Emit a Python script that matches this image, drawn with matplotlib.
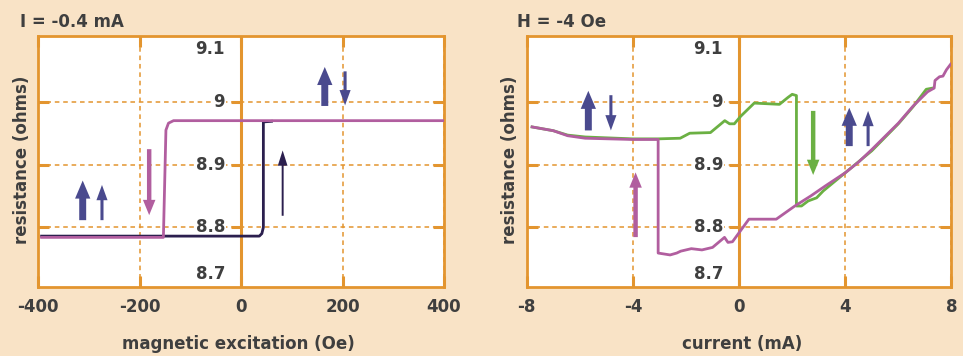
import matplotlib
matplotlib.use("Agg")
import matplotlib.pyplot as plt
from matplotlib.patches import FancyArrowPatch

# colours
BG = "#F9E3C6"
ORANGE = "#E3952F"
PINK = "#B15E9F"
NAVY = "#2B1F4E"
BLUE = "#4A4A8E"
GREEN = "#6BB043"
TEXT = "#3F3F3F"

plt.rcParams["font.family"] = ["DejaVu Sans"]
plt.rcParams["font.weight"] = "bold"
FS = 12

# ---- left panel: R vs field at I = -0.4 mA ----
field_up = [-393, 36, 41, 44, 44, 60]          # dark line (sweep up)
res_up = [8.786, 8.786, 8.790, 8.800, 8.968, 8.969]
field_down = [-393, -153, -148, -143, -133, -100, 400]   # pink line (sweep down)
res_down = [8.784, 8.784, 8.955, 8.966, 8.970, 8.970, 8.970]

# ---- right panel: R vs current at H = -4 Oe ----
cur_green = [-7.8, -7.0, -6.46, -5.8, -4.0, -3.05, -2.22, -1.86, -1.08, -0.54,
             -0.36, -0.18, 0.06, 0.57, 1.52, 1.84, 2.0, 2.16, 2.16, 2.35, 2.6,
             2.92, 3.17, 4.0, 5.0, 6.0, 6.55, 7.05, 7.3]
res_green = [8.960, 8.954, 8.947, 8.944, 8.941, 8.941, 8.942, 8.950, 8.951, 8.970,
             8.965, 8.965, 8.977, 8.998, 8.996, 9.007, 9.012, 9.010, 8.834, 8.834, 8.842,
             8.847, 8.858, 8.887, 8.922, 8.965, 8.992, 9.020, 9.022]
cur_pink = [-7.8, -7.0, -6.46, -5.8, -4.0, -3.05, -3.05, -2.6, -2.35, -2.2, -1.8,
            -1.4, -1.0, -0.55, -0.42, -0.25, 0.37, 1.4, 2.1, 2.7, 3.25, 4.0, 4.5,
            5.0, 5.5, 6.0, 6.55, 7.1, 7.35, 7.38, 7.55, 7.68, 7.81, 7.97]
res_pink = [8.960, 8.954, 8.946, 8.942, 8.940, 8.940, 8.759, 8.756, 8.759, 8.762, 8.766,
            8.764, 8.768, 8.784, 8.776, 8.777, 8.813, 8.813, 8.834, 8.850, 8.866, 8.887, 8.904,
            8.924, 8.945, 8.966, 8.993, 9.016, 9.022, 9.034, 9.040, 9.041, 9.051, 9.060]

# ticks
field_ticks = [-400, -200, 0, 200, 400]
current_ticks = [-8, -4, 0, 4, 8]
res_ticks = [8.7, 8.8, 8.9, 9.0, 9.1]
res_labels = ["8.7", "8.8", "8.9", "9", "9.1"]
res_grid = [8.8, 8.9, 9.0]
res_lim = (8.705, 9.105)

# arrows: (x, y_start, y_end, colour, size)
left_arrows = [
    (-312, 8.807, 8.879, BLUE, "big"),
    (-274, 8.807, 8.872, BLUE, "thin"),
    (-181, 8.929, 8.815, PINK, "mid"),
    (82, 8.814, 8.927, NAVY, "hair"),
    (165, 8.989, 9.060, BLUE, "big"),
    (205, 9.053, 8.990, BLUE, "thin"),
]
right_arrows = [
    (-5.68, 8.950, 9.022, BLUE, "big"),
    (-4.83, 9.015, 8.950, BLUE, "thin"),
    (-3.9, 8.780, 8.892, PINK, "mid"),
    (2.79, 8.990, 8.879, GREEN, "mid"),
    (4.15, 8.925, 8.995, BLUE, "big"),
    (4.86, 8.925, 8.990, BLUE, "thin"),
]

ARROW_STYLES = {
    "big": "simple,head_length=13,head_width=11,tail_width=5",
    "thin": "simple,head_length=11,head_width=8,tail_width=2.2",
    "mid": "simple,head_length=11,head_width=9,tail_width=3.2",
    "hair": "simple,head_length=11,head_width=7,tail_width=1.4",
}


def style_axes(ax, xlim, xticks, width_px):
    """Orange frame, dashed grid, zero line and the in-plot resistance labels."""
    ax.set_facecolor("white")
    ax.set_xlim(*xlim)
    ax.set_ylim(*res_lim)
    for sp in ax.spines.values():
        sp.set_color(ORANGE)
        sp.set_linewidth(2.0)

    ax.set_xticks(xticks)
    ax.set_xticklabels([str(t) for t in xticks])
    ax.set_yticks(res_grid)
    ax.set_yticklabels([])
    ax.tick_params(axis="both", direction="in", length=8, width=2.2, color=ORANGE,
                   top=True, right=True, labelsize=FS, labelcolor=TEXT, pad=8)

    ax.grid(True, color=ORANGE, linestyle=(0, (3, 2.5)), linewidth=1.1)
    ax.set_axisbelow(True)
    ax.axvline(0, color=ORANGE, lw=2.2, zorder=1.5)

    # short solid ticks on the left of the zero line + labels
    frac0 = (0 - xlim[0]) / (xlim[1] - xlim[0])
    tr = ax.get_yaxis_transform()
    tick_len = 10 / width_px
    for v in res_grid:
        ax.plot([frac0 - tick_len, frac0], [v, v], color=ORANGE, lw=2.2,
                transform=tr, zorder=1.6, solid_capstyle="butt")
    for v, lab in zip(res_ticks, res_labels):
        y = min(max(v, res_lim[0] + 0.02), res_lim[1] - 0.02)
        ax.text(frac0 - 16 / width_px, y, lab, transform=tr, ha="right", va="center",
                fontsize=FS, color=TEXT, fontweight="bold", zorder=1.7,
                bbox=dict(facecolor="white", edgecolor="none", pad=0.6))


def draw_arrows(ax, arrows):
    for x, y0, y1, col, size in arrows:
        ax.add_patch(FancyArrowPatch((x, y0), (x, y1), arrowstyle=ARROW_STYLES[size],
                                     mutation_scale=1, color=col, lw=0, zorder=4))


fig = plt.figure(figsize=(9.63, 3.56), dpi=100, facecolor=BG)

ax1 = fig.add_axes([0.0395, 0.194, 0.4216, 0.705])
style_axes(ax1, (-400, 400), field_ticks, 406)
ax1.plot(field_up, res_up, color=NAVY, lw=2.0, zorder=3, solid_joinstyle="round")
ax1.plot(field_down, res_down, color=PINK, lw=2.0, zorder=3.1, solid_joinstyle="round")
draw_arrows(ax1, left_arrows)

ax2 = fig.add_axes([0.547, 0.194, 0.441, 0.705])
style_axes(ax2, (-8, 8), current_ticks, 425)
ax2.plot(cur_green, res_green, color=GREEN, lw=2.0, zorder=3, solid_joinstyle="round")
ax2.plot(cur_pink, res_pink, color=PINK, lw=2.0, zorder=3.1, solid_joinstyle="round")
draw_arrows(ax2, right_arrows)

# titles and axis labels
fig.text(0.0208, 0.938, "I = -0.4 mA", ha="left", va="center", fontsize=FS,
         color=TEXT, fontweight="bold")
fig.text(0.5366, 0.938, "H = -4 Oe", ha="left", va="center", fontsize=FS,
         color=TEXT, fontweight="bold")
fig.text(0.248, 0.033, "magnetic excitation (Oe)", ha="center", va="center",
         fontsize=FS, color=TEXT, fontweight="bold")
fig.text(0.771, 0.033, "current (mA)", ha="center", va="center",
         fontsize=FS, color=TEXT, fontweight="bold")
fig.text(0.0225, 0.55, "resistance (ohms)", ha="center", va="center", rotation=90,
         fontsize=FS, color=TEXT, fontweight="bold")
fig.text(0.53, 0.55, "resistance (ohms)", ha="center", va="center", rotation=90,
         fontsize=FS, color=TEXT, fontweight="bold")

fig.savefig("out.png", dpi=100, facecolor=BG)
